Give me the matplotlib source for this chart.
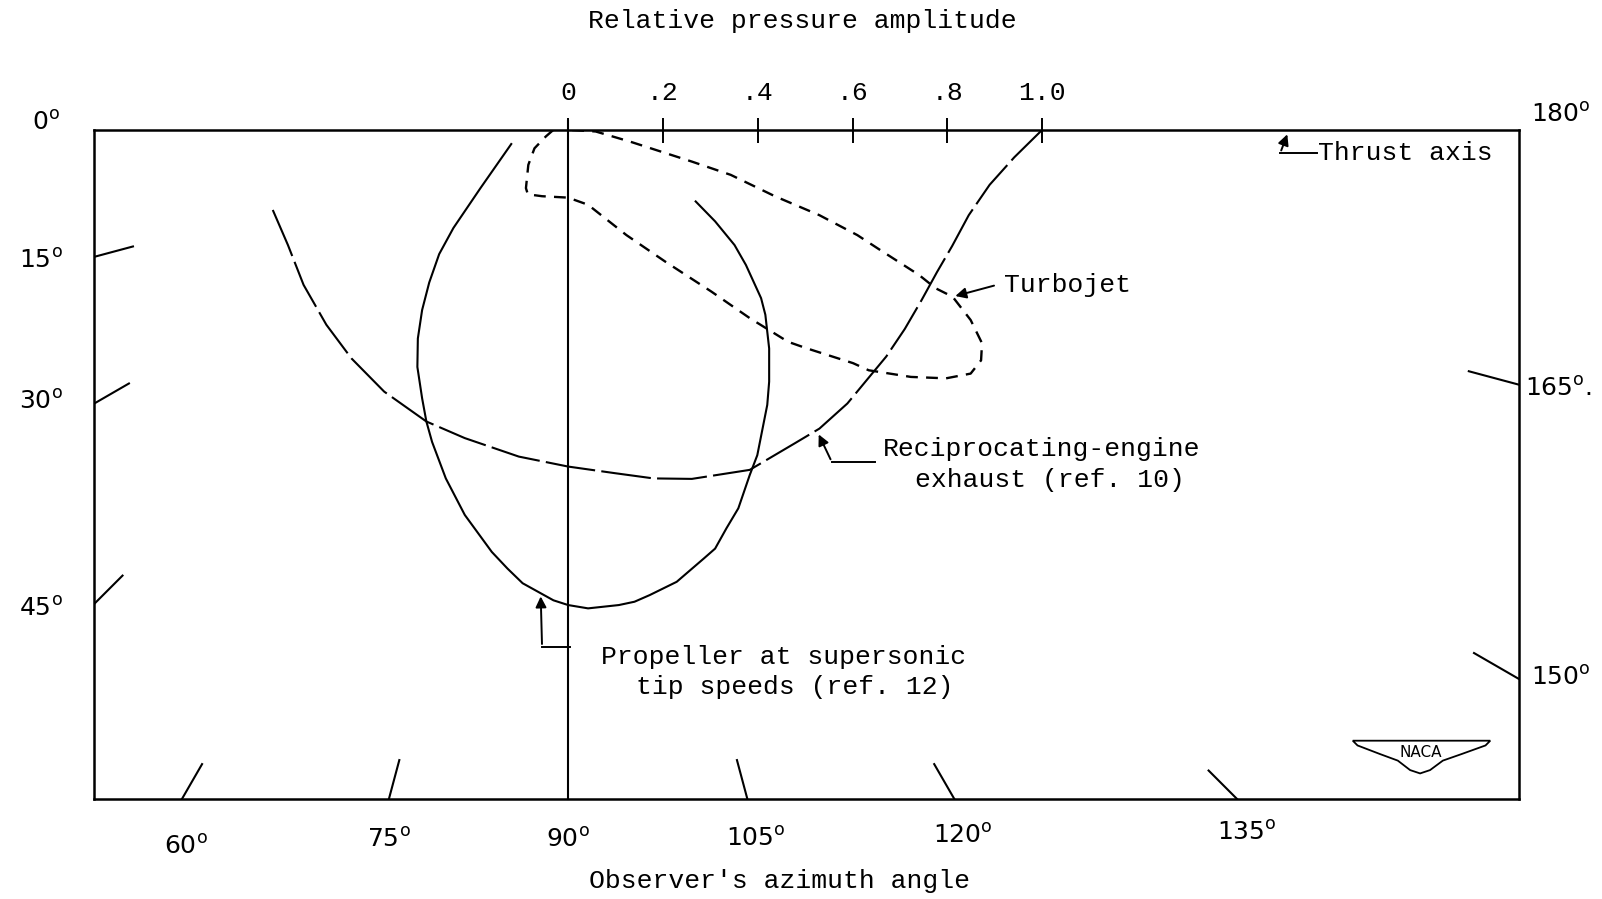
import matplotlib
matplotlib.use("Agg")
import matplotlib.pyplot as plt
import numpy as np

# Polar diagram unrolled into a rectangle: x is the amplitude component along the
# thrust axis (0 at the observer origin), depth is the component below the axis.

# Reciprocating-engine exhaust (ref. 10)
recip_x = [-0.623, -0.591, -0.558, -0.510, -0.457, -0.388, -0.299, -0.218, -0.104, 0.0,
           0.099, 0.180, 0.261, 0.383, 0.478, 0.530, 0.589, 0.632, 0.671, 0.710,
           0.745, 0.778, 0.810, 0.845, 0.889, 0.941, 1.0]
recip_d = [0.169, 0.243, 0.327, 0.411, 0.482, 0.552, 0.615, 0.650, 0.689, 0.710,
           0.724, 0.735, 0.736, 0.717, 0.661, 0.630, 0.577, 0.525, 0.478, 0.420,
           0.360, 0.300, 0.245, 0.180, 0.116, 0.058, 0.0]

# Turbojet
jet_x = [-0.031, -0.047, -0.071, -0.084, -0.089, -0.085, -0.055, 0.0, 0.042, 0.123,
         0.205, 0.302, 0.383, 0.464, 0.501, 0.601, 0.634, 0.723, 0.797, 0.849,
         0.871, 0.873, 0.849, 0.811, 0.775, 0.740, 0.656, 0.610, 0.530, 0.436,
         0.343, 0.261, 0.131, 0.058, 0.0]
jet_d = [0.0, 0.014, 0.039, 0.074, 0.123, 0.136, 0.140, 0.143, 0.158, 0.222,
         0.278, 0.341, 0.397, 0.447, 0.460, 0.492, 0.507, 0.521, 0.524, 0.514,
         0.486, 0.450, 0.401, 0.352, 0.334, 0.306, 0.252, 0.222, 0.180, 0.140,
         0.095, 0.067, 0.025, 0.0035, 0.0]

# Propeller at supersonic tip speeds (ref. 12)
prop_x = [-0.120, -0.185, -0.242, -0.272, -0.293, -0.308, -0.317, -0.318, -0.308, -0.299,
          -0.287, -0.258, -0.218, -0.161, -0.128, -0.096, -0.031, 0.0, 0.042, 0.107,
          0.140, 0.172, 0.229, 0.286, 0.310, 0.334, 0.359, 0.383, 0.399, 0.420,
          0.424, 0.424, 0.416, 0.407, 0.391, 0.375, 0.351, 0.310, 0.269]
prop_d = [0.030, 0.123, 0.207, 0.262, 0.322, 0.380, 0.440, 0.500, 0.566, 0.615,
          0.658, 0.735, 0.812, 0.890, 0.925, 0.956, 0.992, 1.002, 1.009, 1.002,
          0.995, 0.981, 0.953, 0.904, 0.883, 0.840, 0.798, 0.728, 0.686, 0.580,
          0.531, 0.461, 0.390, 0.355, 0.320, 0.285, 0.243, 0.193, 0.151]

amp_ticks = [0, 0.2, 0.4, 0.6, 0.8, 1.0]
amp_labels = ["0", ".2", ".4", ".6", ".8", "1.0"]

angle_ticks = [15, 30, 45, 60, 75, 105, 120, 135, 150, 165]
angle_labels = ["0", "15", "30", "45", "60", "75", "90", "105", "120", "135", "150", "165", "180"]
angle_label_pos = [(-1.101, -0.015), (-1.112, 0.276), (-1.112, 0.573), (-1.112, 1.009),
                   (-0.806, 1.511), (-0.379, 1.498), (0.0, 1.498), (0.397, 1.494),
                   (0.832, 1.489), (1.431, 1.483), (2.093, 1.155), (2.088, 0.545),
                   (2.093, -0.032)]

X_MIN, X_MAX = -1.0, 2.006
D_MAX = 1.411
MONO = "Liberation Mono"

fig = plt.figure(figsize=(16.02, 8.99), dpi=100)
ax = fig.add_axes([0.0587, 0.1112, 0.8896, 0.7444])
ax.set_xlim(X_MIN, X_MAX)
ax.set_ylim(D_MAX, 0)
for sp in ax.spines.values():
    sp.set_linewidth(1.8)

# amplitude scale along the top edge
ax.xaxis.tick_top()
ax.set_xticks(amp_ticks)
ax.set_xticklabels(amp_labels, fontfamily=MONO, fontsize=19)
ax.tick_params(axis="x", direction="inout", length=18, width=1.4, pad=9)
ax.set_yticks([])

# 90 deg reference line through the origin
ax.plot([0, 0], [-0.018, D_MAX], color="black", lw=1.5, clip_on=False, zorder=3)

# azimuth ticks: short radial strokes where each ray meets the frame
for ang in angle_ticks:
    ux, uy = -np.cos(np.radians(ang)), np.sin(np.radians(ang))
    hits = []
    if ux < -1e-9:
        hits.append(X_MIN / ux)
    if ux > 1e-9:
        hits.append(X_MAX / ux)
    if uy > 1e-9:
        hits.append(D_MAX / uy)
    t = min(hits)
    length = 0.11 if ang >= 150 else 0.085
    ax.plot([(t - length) * ux, t * ux], [(t - length) * uy, t * uy],
            color="black", lw=1.5, zorder=3)

for lab, (lx, ly) in zip(angle_labels, angle_label_pos):
    txt = r"$%s^{\mathrm{o}}$" % lab
    if lab == "165":
        txt += "."
    ax.text(lx, ly, txt, fontsize=18, ha="center", va="center", clip_on=False)

# curves
ax.plot(recip_x, recip_d, color="black", lw=1.5, dashes=(24, 3), zorder=4)
ax.plot(jet_x, jet_d, color="black", lw=1.7, dashes=(5, 3.5), zorder=4)
ax.plot(prop_x, prop_d, color="black", lw=1.5, zorder=4)

arrow = dict(arrowstyle="-|>", color="black", lw=1.4, mutation_scale=16)

# Thrust axis label
ax.plot([1.502, 1.580], [0.049, 0.049], color="black", lw=1.4)
ax.annotate("", xy=(1.519, 0.004), xytext=(1.502, 0.049), arrowprops=arrow)
ax.text(1.582, 0.049, "Thrust axis", fontfamily=MONO, fontsize=19, va="center", ha="left")

# Turbojet label
ax.annotate("", xy=(0.811, 0.352), xytext=(0.904, 0.327), arrowprops=arrow)
ax.text(0.919, 0.327, "Turbojet", fontfamily=MONO, fontsize=19, va="center", ha="left")

# Reciprocating-engine label
ax.plot([0.648, 0.556], [0.700, 0.700], color="black", lw=1.4)
ax.annotate("", xy=(0.526, 0.637), xytext=(0.556, 0.700), arrowprops=arrow)
ax.text(0.664, 0.672, "Reciprocating-engine", fontfamily=MONO, fontsize=19,
        va="center", ha="left")
ax.text(0.731, 0.739, "exhaust (ref. 10)", fontfamily=MONO, fontsize=19,
        va="center", ha="left")

# Propeller label
ax.plot([-0.055, 0.003], [1.090, 1.090], color="black", lw=1.4)
ax.annotate("", xy=(-0.058, 0.978), xytext=(-0.055, 1.090), arrowprops=arrow)
ax.text(0.070, 1.112, "Propeller at supersonic", fontfamily=MONO, fontsize=19,
        va="center", ha="left")
ax.text(0.143, 1.175, "tip speeds (ref. 12)", fontfamily=MONO, fontsize=19,
        va="center", ha="left")

# NACA wing badge
wing = [(1.655, 1.288), (1.945, 1.288), (1.935, 1.298), (1.885, 1.316), (1.845, 1.330),
        (1.818, 1.350), (1.797, 1.357), (1.776, 1.350), (1.750, 1.330), (1.712, 1.316),
        (1.665, 1.298)]
ax.add_patch(plt.Polygon(wing, closed=True, facecolor="white", edgecolor="black", lw=1.3))
ax.text(1.799, 1.313, "NACA", fontsize=11, ha="center", va="center")

fig.text(0.5006, 0.977, "Relative pressure amplitude", fontfamily=MONO, fontsize=19,
         ha="center", va="center")
fig.text(0.4866, 0.0204, "Observer's azimuth angle", fontfamily=MONO, fontsize=19,
         ha="center", va="center")

fig.savefig("out.png", dpi=100, facecolor="white")
